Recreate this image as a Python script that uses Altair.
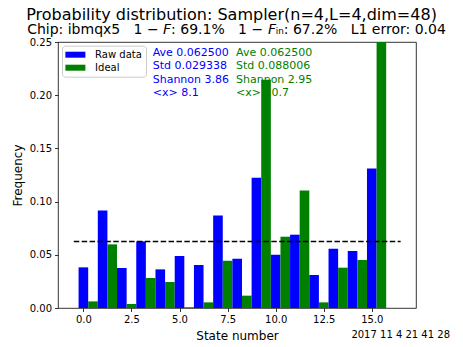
import altair as alt
import pandas as pd

# ---- data ----
states = list(range(16))
raw_data = [0.0382, 0.0917, 0.0376, 0.0626, 0.0363, 0.0489, 0.0404, 0.0870,
            0.0463, 0.1225, 0.0501, 0.0689, 0.0310, 0.0557, 0.0536, 0.1312]
ideal = [0.0062, 0.0598, 0.0038, 0.0282, 0.0244, 0.0008, 0.0053, 0.0445,
         0.0116, 0.2146, 0.0670, 0.1105, 0.0053, 0.0379, 0.0451, 0.3350]
series_names = ["Raw data", "Ideal"]
series_colors = ["#0000ff", "#008000"]
uniform_level = 0.0625
uniform_span = [-0.5, 16.5]
x_ticks = [0.0, 2.5, 5.0, 7.5, 10.0, 12.5, 15.0]
y_ticks = [0.0, 0.05, 0.10, 0.15, 0.20, 0.25]
title_text = "Probability distribution: Sampler(n=4,L=4,dim=48)"
SP = "\u00a0\u00a0\u00a0"
F_IT = "\U0001D60D"
subtitle_text = ("Chip: ibmqx5" + SP + "1\u00a0\u2212\u00a0" + F_IT + ": 69.1%" + SP +
                 "1\u00a0\u2212\u00a0" + F_IT + "\u1d62\u2099: 67.2%" + SP + "L1 error: 0.04")
raw_stats = ["Ave 0.062500", "Std 0.029338", "Shannon 3.86", "<x> 8.1"]
ideal_stats = ["Ave 0.062500", "Std 0.088006", "Shannon 2.95", "<x> 10.7"]
timestamp = "2017 11 4 21 41 28"

FONT = "DejaVu Sans"
bar_w = 0.5
rows = []
for i, s in enumerate(states):
    rows.append({"state": s, "series": "Raw data", "value": raw_data[i],
                 "x0": s - bar_w / 2, "x1": s + bar_w / 2})
    rows.append({"state": s, "series": "Ideal", "value": ideal[i],
                 "x0": s + bar_w / 2, "x1": s + 3 * bar_w / 2})
df = pd.DataFrame(rows)

xscale = alt.Scale(domain=[-1.32, 17.3], nice=False, zero=False, padding=0)
yscale = alt.Scale(domain=[0, 0.25], nice=False, padding=0)

base = alt.Chart(df)

stats_raw = alt.Chart(pd.DataFrame({"t": [0]})).mark_text(
    text=raw_stats, lineHeight=13.3, align="left", baseline="alphabetic",
    font=FONT, fontSize=11, color="#0000ff"
).encode(x=alt.value(94.7), y=alt.value(14))

stats_ideal = alt.Chart(pd.DataFrame({"t": [0]})).mark_text(
    text=ideal_stats, lineHeight=13.3, align="left", baseline="alphabetic",
    font=FONT, fontSize=11, color="#008000"
).encode(x=alt.value(178), y=alt.value(14))

bars = base.mark_bar(clip=True).encode(
    x=alt.X("x0:Q", scale=xscale,
            axis=alt.Axis(values=x_ticks, format=".1f", title="State number")),
    x2="x1:Q",
    y=alt.Y("value:Q", scale=yscale, stack=None,
            axis=alt.Axis(values=y_ticks, format=".2f", title="Frequency")),
    y2=alt.datum(0),
    color=alt.Color("series:N",
                    scale=alt.Scale(domain=series_names, range=series_colors),
                    sort=series_names,
                    legend=alt.Legend(title=None, orient="none", legendX=4, legendY=3.7,
                                      fillColor="white", strokeColor="#cccccc",
                                      cornerRadius=3, padding=4,
                                      symbolType="M-3.333,-1L3.333,-1L3.333,1L-3.333,1Z",
                                      symbolSize=36, symbolStrokeWidth=0,
                                      symbolOffset=4.4,
                                      labelFont=FONT, labelFontSize=10,
                                      labelOffset=14.7, rowPadding=3)),
)

line = alt.Chart(pd.DataFrame({"a": [uniform_span[0]], "b": [uniform_span[1]],
                               "y": [uniform_level]})).mark_rule(
    color="black", strokeWidth=1.5, strokeDash=[5.5, 2.4]
).encode(x=alt.X("a:Q", scale=xscale), x2="b:Q", y=alt.Y("y:Q", scale=yscale))

title = alt.Chart(pd.DataFrame({"t": [title_text]})).mark_text(
    align="center", baseline="alphabetic", font=FONT, fontSize=16, color="black"
).encode(text="t:N", x=alt.value(173.5), y=alt.value(-21.8))

subtitle = alt.Chart(pd.DataFrame({"t": [subtitle_text]})).mark_text(
    align="center", baseline="alphabetic", font=FONT, fontSize=14, color="black"
).encode(text="t:N", x=alt.value(178.5), y=alt.value(-7.7))

stamp = alt.Chart(pd.DataFrame({"t": [timestamp]})).mark_text(
    align="right", baseline="alphabetic", font=FONT, fontSize=10, color="black"
).encode(text="t:N", x=alt.value(392), y=alt.value(295.5))

chart = alt.layer(stats_raw, stats_ideal, bars, line, title, subtitle, stamp).properties(
    width=358, height=266,
    padding={"left": 50, "top": 34, "right": 36, "bottom": 37},
    autosize=alt.AutoSizeParams(type="none"),
).configure_view(
    stroke="black", strokeWidth=0.8
).configure_axis(
    domain=False, grid=False, ticks=True, tickSize=3.5, tickColor="black",
    tickWidth=0.8, labelFont=FONT, labelFontSize=10, labelColor="black",
    labelPadding=3, titleFont=FONT, titleFontSize=12, titleFontWeight="normal",
    titleColor="black"
).configure_axisX(titlePadding=5.5).configure_axisY(titlePadding=5)

chart.save("out.html", embed_options={"renderer": "svg", "actions": False})
